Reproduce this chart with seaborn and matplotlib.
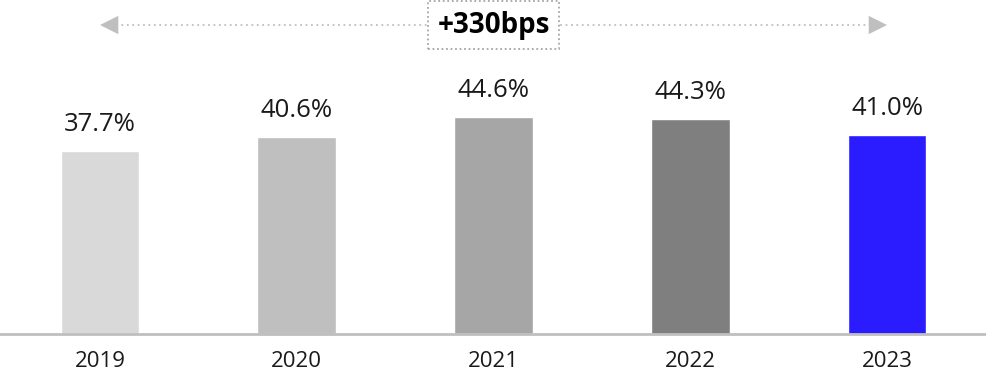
import matplotlib
matplotlib.use("Agg")
import matplotlib.pyplot as plt
import seaborn as sns
import pandas as pd
from matplotlib.transforms import blended_transform_factory

years = ["2019", "2020", "2021", "2022", "2023"]
values = [37.7, 40.6, 44.6, 44.3, 41.0]
labels = ["37.7%", "40.6%", "44.6%", "44.3%", "41.0%"]
colors = ["#D9D9D9", "#BFBFBF", "#A6A6A6", "#7F7F7F", "#2A1CFF"]
change_label = "+330bps"

sns.set_theme(style="white")
plt.rcParams["font.family"] = ["Open Sans", "DejaVu Sans"]

df = pd.DataFrame({"year": years, "value": values})

fig = plt.figure(figsize=(9.87, 3.75), dpi=100)
ax = fig.add_axes([0, 41 / 375, 1, 334 / 375])

sns.barplot(data=df, x="year", y="value", hue="year", palette=colors,
            legend=False, width=0.4, ax=ax, saturation=1)

for cont, lab in zip(ax.containers, labels):
    ax.bar_label(cont, labels=[lab], padding=10, fontsize=18.5, color="#1a1a1a")

ax.set_xlim(-0.508, 4.508)
ax.set_ylim(0, 68.7)
ax.set_xlabel("")
ax.set_ylabel("")
ax.set_yticks([])
ax.tick_params(axis="x", length=0, labelsize=16, pad=12, colors="#1a1a1a")
for s in ["top", "right", "left"]:
    ax.spines[s].set_visible(False)
ax.spines["bottom"].set_color("#BFBFBF")
ax.spines["bottom"].set_linewidth(2)

tr = blended_transform_factory(ax.transData, ax.transAxes)
yarr = (334 - 25) / 334
ax.plot([0.08, 3.92], [yarr, yarr], transform=tr, ls=(0, (1, 2)), lw=1.3,
        color="#BFBFBF", clip_on=False)
for xs, xe in [(0.1, 0.0), (3.9, 4.0)]:
    ax.annotate("", xy=(xe, yarr), xytext=(xs, yarr), xycoords=tr, textcoords=tr,
                arrowprops=dict(arrowstyle="-|>,head_length=1.1,head_width=0.55",
                                color="#BFBFBF", lw=0, shrinkA=0, shrinkB=0),
                annotation_clip=False)

ax.text(2, yarr, change_label, transform=tr, ha="center", va="center",
        fontsize=20, fontweight="bold", color="black",
        bbox=dict(boxstyle="square,pad=0.35", fc="white", ec="#A6A6A6",
                  ls=(0, (1, 1.5)), lw=1.3))

fig.savefig("out.png", dpi=100)
